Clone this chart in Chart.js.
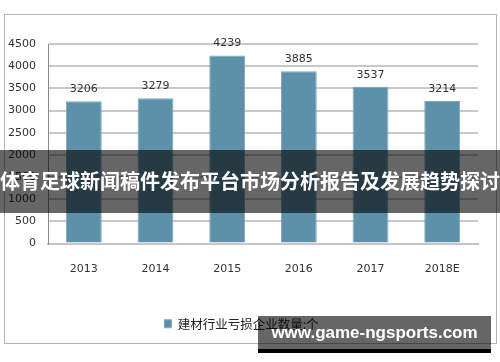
<!DOCTYPE html>
<html>
<head>
<meta charset="utf-8">
<title>建材行业亏损企业数量</title>
<script src="https://cdn.jsdelivr.net/npm/chart.js@4.4.0/dist/chart.umd.min.js"></script>
<style>
  html, body { margin: 0; padding: 0; background: #fff; }
  body { width: 500px; height: 362px; position: relative; overflow: hidden; }
  #chart-box {
    position: absolute; left: 4px; top: 14px; width: 493px; height: 330px;
    border: 1px solid #b4b4b4; box-sizing: border-box;
  }
  #banner {
    position: absolute; left: 0; top: 150px; width: 500px; height: 63px;
    background: rgba(0, 0, 0, 0.6); overflow: hidden;
  }
  #banner span {
    position: absolute; left: 50%; top: 0; transform: translateX(-50%);
    color: #fff; font: bold 20px 'Noto Sans CJK SC', sans-serif; line-height: 62px;
    white-space: nowrap;
  }
  #watermark {
    position: absolute; left: 258px; top: 316px; width: 233px; height: 33px;
    background: rgba(0, 0, 0, 0.6); border-bottom: 4px solid #000;
    color: #fff; text-align: center;
    font: bold 17px 'Liberation Sans', sans-serif; line-height: 33px;
    white-space: nowrap;
  }
</style>
</head>
<body>
<div id="chart-box"><canvas id="lossChart" width="491" height="328"></canvas></div>
<div id="banner"><span>体育足球新闻稿件发布平台市场分析报告及发展趋势探讨</span></div>
<div id="watermark">www.game-ngsports.com</div>
<script>
'use strict';

// ********************* DATA *********************

let years = ['2013', '2014', '2015', '2016', '2017', '2018E'];
let lossCompanies = [3206, 3279, 4239, 3885, 3537, 3214];
let seriesName = '建材行业亏损企业数量:个';
let yTicks = [0, 500, 1000, 1500, 2000, 2500, 3000, 3500, 4000, 4500];

// ********************* CANVAS REFERENCE *********************

let ctx = document.getElementById('lossChart');

// ******************* VALUE LABEL PLUGIN ********************

let valueLabels = {
  id: 'valueLabels',
  afterDatasetsDraw(chart) {
    let c = chart.ctx;
    let meta = chart.getDatasetMeta(0);
    c.save();
    c.font = '11px "DejaVu Sans"';
    c.fillStyle = '#333';
    c.textAlign = 'center';
    c.textBaseline = 'middle';
    meta.data.forEach((bar, i) => {
      c.fillText(String(lossCompanies[i]), bar.x, bar.y - 12);
    });
    c.restore();
  }
};

// ******************* RENDER CHART ***************************

new Chart(ctx, {
  type: 'bar',
  data: {
    labels: years,
    datasets: [{
      label: seriesName,
      data: lossCompanies,
      backgroundColor: '#5d91a9',
      borderColor: '#7ea8bb',
      borderWidth: 1,
      barPercentage: 0.5,
      categoryPercentage: 1
    }]
  },
  options: {
    responsive: false,
    animation: false,
    layout: { padding: { top: 29, right: 18, left: 0, bottom: 3 } },
    plugins: {
      tooltip: { enabled: false },
      legend: {
        position: 'bottom',
        labels: {
          boxWidth: 7,
          boxHeight: 8,
          padding: 4,
          color: '#222',
          font: { family: "'Noto Sans CJK SC'", size: 12.5 }
        }
      }
    },
    scales: {
      x: {
        grid: { display: false },
        border: { display: true, color: '#c6c6c6', width: 2 },
        ticks: { color: '#333', padding: 11, font: { family: "'DejaVu Sans'", size: 11 } },
        afterFit(scale) { scale.height = 70; }
      },
      y: {
        min: 0,
        max: yTicks[yTicks.length - 1],
        afterBuildTicks(scale) { scale.ticks = yTicks.map(v => ({ value: v })); },
        grid: { color: '#c8c8c8', lineWidth: 2, drawTicks: false },
        border: { display: true, color: '#8a8a8a', width: 1 },
        ticks: {
          color: '#333',
          padding: 12,
          font: { family: "'DejaVu Sans'", size: 11 },
          callback: (value) => String(value)
        },
        afterFit(scale) { scale.width = 43; }
      }
    }
  },
  plugins: [valueLabels]
});
</script>
</body>
</html>
